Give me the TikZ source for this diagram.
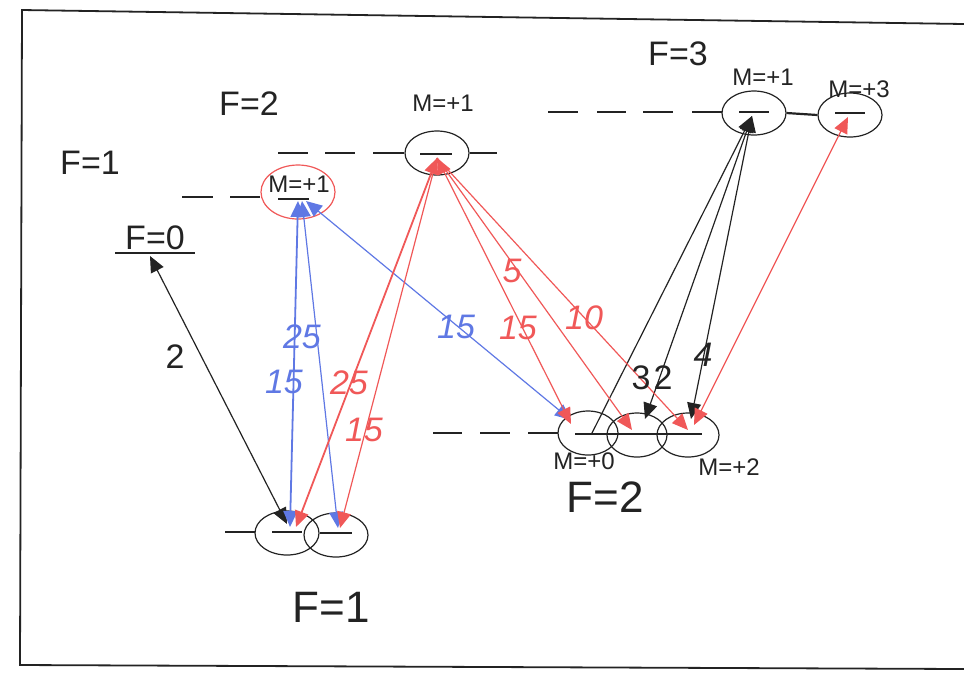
\documentclass[tikz,border=0pt]{standalone}
\usepackage{fontspec}
\setmainfont{Liberation Sans}
\usetikzlibrary{shapes.geometric,arrows.meta}
\definecolor{lvblue}{RGB}{95,120,228}
\definecolor{lvred}{RGB}{240,88,88}
\definecolor{lvink}{RGB}{35,35,35}
\begin{document}
\begin{tikzpicture}[x=0.5pt,y=-0.5pt,
  sub/.style={draw=lvink, ellipse, minimum width=32pt, minimum height=22pt, inner sep=0pt, line width=0.6pt},
  redsub/.style={sub, draw=lvred},
  lvl/.style={lvink, line width=1.1pt},
  frame/.style={lvink, line width=0.9pt},
  mlab/.style={font=\fontsize{12}{14}\selectfont, text=lvink, inner sep=1pt},
  flab/.style={font=\fontsize{17}{20}\selectfont, text=lvink, inner sep=1pt},
  fbig/.style={font=\fontsize{22}{26}\selectfont, text=lvink, inner sep=1pt},
  num/.style={font=\fontsize{17}{20}\selectfont\itshape, inner sep=1pt},
  plain/.style={font=\fontsize{17}{20}\selectfont, text=lvink, inner sep=1pt},
  tr/.style={line width=0.6pt},
  head/.style={-{Triangle[length=8pt,width=7pt]}},
  heads/.style={{Triangle[length=8pt,width=7pt]}-{Triangle[length=8pt,width=7pt]}},
  tail/.style={{Triangle[length=8pt,width=7pt]}-}]
\useasboundingbox (0,0) rectangle (964,677);

% page frame
\draw[frame] (964,24) -- (22,10) -- (20,665) -- (964,669);

% ---------- F=3 ----------
\node[flab] (f3) at (678,54) {F=3};
\foreach \a/\b in {548/578,597/626,643/673,692/722}
  \draw[lvl] (\a,112) -- (\b,112);
\node[sub] (f3m1) at (754,113) {};
\node[sub] (f3m3) at (850,115) {};
\draw[lvl] (f3m1.east) -- (f3m3.west);
\draw[lvl] (739,112) -- (769,112);
\draw[lvl] (835,113) -- (865,113);
\node[mlab] (f3m1t) at (763,77) {M=+1};
\node[mlab] (f3m3t) at (859,89) {M=+3};
\coordinate (p3a) at (752,116);
\coordinate (p3b) at (848,117);

% ---------- F=2 (upper) ----------
\node[flab] (f2u) at (249,104) {F=2};
\foreach \a/\b in {278/308,325/355,373/403}
  \draw[lvl] (\a,153) -- (\b,153);
\node[sub] (f2m1) at (437,153) {};
\draw[lvl] (403,153) -- (f2m1.west);
\draw[lvl] (f2m1.east) -- (497,153);
\draw[lvl] (420,154) -- (452,154);
\node[mlab] (f2m1t) at (443,103) {M=+1};
\coordinate (p2) at (437,158);

% ---------- F=1 (upper) ----------
\node[flab] (f1u) at (90,163) {F=1};
\draw[lvl] (182,197) -- (213,197);
\draw[lvl] (230,197) -- (260,197);
\node[redsub, minimum width=37pt, minimum height=27pt] (f1m1) at (298,192) {};
\draw[lvl] (278,199) -- (309,199);
\node[mlab] (f1m1t) at (299,184) {M=+1};
\coordinate (p1) at (298,201);

% ---------- F=0 ----------
\node[flab, anchor=south] (f0) at (155,252) {F=0};
\draw[lvl] (115,253) -- (195,253);
\coordinate (p0) at (150,256);

% ---------- F=2 (lower) ----------
\foreach \a/\b in {433/462,480/510,528/558}
  \draw[lvl] (\a,433) -- (\b,433);
\node[sub, minimum width=30pt] (l2a) at (588,433) {};
\node[sub, minimum width=30pt] (l2b) at (637,435) {};
\node[sub, minimum width=31pt] (l2c) at (688,435) {};
\draw[lvl] (558,433) -- (l2a.west);
\draw[lvl] (575,434) -- (702,434);
\node[mlab] (l2at) at (584,461) {M=+0};
\node[mlab] (l2ct) at (729,467) {M=+2};
\node[fbig] (f2l) at (605,497) {F=2};
\coordinate (q0a) at (571,420);
\coordinate (q0b) at (592,433);
\coordinate (q1) at (632,430);
\coordinate (q1k) at (645,419);
\coordinate (q2) at (688,430);
\coordinate (q2k) at (691,419);
\coordinate (q2r) at (694,425);

% ---------- F=1 (lower) ----------
\draw[lvl] (225,532) -- (255,532);
\node[sub] (l1a) at (287,533) {};
\node[sub] (l1b) at (336,535) {};
\draw[lvl] (272,532) -- (302,532);
\draw[lvl] (320,533) -- (352,533);
\node[fbig] (f1l) at (331,607) {F=1};
\coordinate (r0) at (290,527);
\coordinate (r0k) at (287,524);
\coordinate (r1) at (338,528);

% ---------- transitions ----------
% black
\draw[tr, lvink, heads] (r0k) -- (p0);
\draw[tr, lvink, tail] (p3a) -- (q0b);
\draw[tr, lvink, heads] (p3a) -- (q1k);
\draw[tr, lvink, heads] (p3a) -- (q2k);
% blue
\draw[tr, lvblue, line width=0.9pt, heads] (p1) -- (r0);
\draw[tr, lvblue, heads] ([xshift=2]p1) -- (r1);
\draw[tr, lvblue, heads] ([xshift=4]p1) -- (q0a);
% red
\draw[tr, lvred, line width=0.9pt, heads] (p2) -- ([xshift=3]r0);
\draw[tr, lvred, head] (p2) -- ([xshift=1]r1);
\draw[tr, lvred, heads] (p2) -- ([yshift=-2]q0a);
\draw[tr, lvred, head] (p2) -- (q1);
\draw[tr, lvred, head] (p2) -- (q2);
\draw[tr, lvred, heads] (p3b) -- (q2r);

% ---------- strengths ----------
\node[plain] (n2) at (175,357) {2};
\node[num, text=lvblue] (b25) at (302,337) {25};
\node[num, text=lvblue] (b15a) at (284,382) {15};
\node[num, text=lvblue] (b15b) at (456,327) {15};
\node[num, text=lvred] (r25) at (349,383) {25};
\node[num, text=lvred] (r15a) at (364,430) {15};
\node[num, text=lvred] (r5) at (512,271) {5};
\node[num, text=lvred] (r15b) at (518,328) {15};
\node[num, text=lvred] (r10) at (584,318) {10};
\node[plain] (k3) at (641,378) {3};
\node[plain] (k2) at (663,378) {2};
\node[num, text=lvink] (k4) at (703,355) {4};
\end{tikzpicture}
\end{document}
